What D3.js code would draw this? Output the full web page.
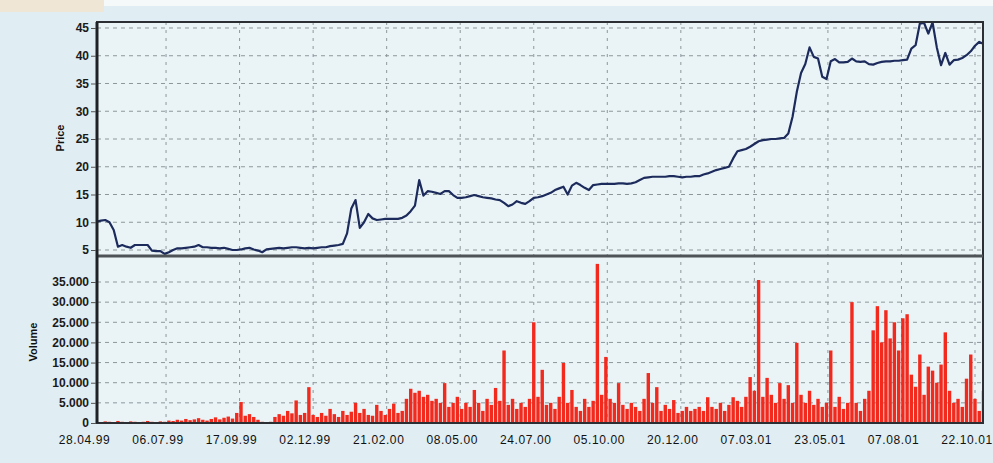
<!DOCTYPE html>
<html>
<head>
<meta charset="utf-8">
<script src="https://cdn.jsdelivr.net/npm/d3@7/dist/d3.min.js"></script>
<style>
  html, body { margin: 0; padding: 0; background: #e0edf2; }
  svg { display: block; }
  text { font-family: "Liberation Sans", Arial, sans-serif; }
</style>
</head>
<body>
<svg id="chart" width="993" height="463"></svg>
<script>
// ---- data ----
const xTickLabels = ["28.04.99","06.07.99","17.09.99","02.12.99","21.02.00","08.05.00","24.07.00","05.10.00","20.12.00","07.03.01","23.05.01","07.08.01","22.10.01"];
const labelEvery = 52;      // trading days between date labels
const sampleEvery = 3;      // trading days between samples
const firstSampleDay = 3;

const priceTicks = [5, 10, 15, 20, 25, 30, 35, 40, 45];
const volumeTicks = [0, 5000, 10000, 15000, 20000, 25000, 30000, 35000];

const price = [
 10.1,10.3,10.4,10.0,8.6,5.6,5.9,5.6,5.4,5.9,
 5.9,5.9,5.9,4.9,4.8,4.8,4.3,4.6,5.0,5.3,
 5.3,5.4,5.5,5.6,5.9,5.5,5.5,5.4,5.4,5.3,
 5.4,5.2,5.0,5.0,5.1,5.3,5.4,5.1,4.9,4.6,
 5.1,5.2,5.3,5.4,5.3,5.4,5.5,5.5,5.4,5.3,
 5.4,5.3,5.4,5.5,5.5,5.7,5.8,5.9,6.1,8.0,
 12.5,14.0,9.0,10.0,11.5,10.7,10.4,10.5,10.6,10.6,
 10.6,10.6,10.8,11.2,12.0,13.0,17.6,14.8,15.6,15.5,
 15.3,15.1,15.6,15.6,14.9,14.4,14.4,14.5,14.7,14.9,
 14.7,14.5,14.4,14.3,14.1,14.0,13.5,12.9,13.2,13.8,
 13.5,13.3,13.8,14.4,14.5,14.7,15.0,15.3,15.8,16.1,
 16.4,15.0,16.6,17.1,16.7,16.2,15.8,16.7,16.8,16.9,
 16.9,16.9,16.9,17.0,17.0,16.9,17.0,17.2,17.6,18.0,
 18.1,18.2,18.2,18.2,18.2,18.3,18.3,18.2,18.1,18.2,
 18.2,18.3,18.3,18.6,18.8,19.1,19.4,19.6,19.8,20.0,
 21.5,22.8,23.0,23.2,23.6,24.1,24.6,24.8,24.9,25.0,
 25.0,25.1,25.2,26.0,29.0,33.5,36.9,38.5,41.5,39.8,
 39.5,36.2,35.8,39.0,39.4,38.8,38.8,38.9,39.5,39.0,
 38.9,39.0,38.5,38.4,38.7,38.9,39.0,39.0,39.1,39.1,
 39.2,39.3,41.3,41.9,45.8,45.9,44.0,46.0,41.5,38.3,
 40.5,38.4,39.2,39.3,39.6,40.1,40.8,41.8,42.5,42.1
];

const volume = [
 300,200,400,300,200,500,300,200,400,300,
 200,300,500,300,200,400,300,600,500,800,
 600,1000,700,900,1200,800,600,1000,1400,900,
 1300,1600,1100,2500,5200,1800,2200,1500,800,300,
 200,300,1500,2200,1800,3000,2400,5600,2000,2500,
 8900,2000,1500,2500,1800,3500,2200,1500,3000,2000,
 2800,5000,2500,3500,2000,1800,4500,3000,2000,3500,
 4800,2500,3000,6000,8500,7500,8000,6500,7000,5500,
 6000,5000,9900,4000,5000,6500,3500,5000,4000,8200,
 5000,3000,6000,4500,8700,5500,18000,4500,6000,3500,
 5000,4000,6000,25000,6500,13200,4500,5000,3500,6500,
 14900,5000,8200,4000,3000,6000,4000,5500,39500,7000,
 16400,6000,5000,9900,4500,3500,5000,4000,3000,6000,
 12400,5000,8900,3000,4500,3500,5700,2500,3000,4000,
 3000,3500,4000,3000,6400,4000,3500,5000,3000,4500,
 6400,5500,4000,6500,11400,8000,35500,6500,11200,7000,
 5000,9900,6000,9400,5000,19900,7000,5000,8000,4500,
 6000,4000,5000,18000,4000,6500,3500,5000,30000,5000,
 3000,6000,8000,23000,29000,20000,28000,21000,25000,18000,
 26000,27000,12000,9000,17000,7000,14000,13000,10000,14500,
 22500,8000,5000,6000,4000,11000,17000,6000,3000,8000
];

// ---- layout ----
const svg = d3.select("#chart");
const W = 993, H = 463;
const mLeft = 97, mRight = 983, mTop = 22, mMid = 256, mBottom = 423;

svg.append("rect").attr("width", W).attr("height", H).attr("fill", "#e0edf2");
svg.append("rect").attr("x", 0).attr("y", 0).attr("width", W).attr("height", 6).attr("fill", "#f6f9fa");
svg.append("rect").attr("x", 0).attr("y", 0).attr("width", 104).attr("height", 12).attr("fill", "#efe6d6");

svg.append("rect").attr("x", mLeft).attr("y", mTop).attr("width", mRight - mLeft).attr("height", mBottom - mTop).attr("fill", "#eaf4f7");

const nLabels = xTickLabels.length;
const x = d3.scaleLinear().domain([0, (nLabels - 1) * labelEvery]).range([92.5, 975]);
const dayOf = i => firstSampleDay + i * sampleEvery;

const yP = d3.scaleLinear().domain([3.92, 46.08]).range([mMid, mTop]);
const yV = d3.scaleLinear().domain([0, 40960]).range([mBottom, mMid + 2]);

const defs = svg.append("defs");
defs.append("clipPath").attr("id", "clipP").append("rect")
  .attr("x", mLeft).attr("y", mTop).attr("width", mRight - mLeft).attr("height", mMid - mTop);
defs.append("clipPath").attr("id", "clipV").append("rect")
  .attr("x", mLeft).attr("y", mMid).attr("width", mRight - mLeft).attr("height", mBottom - mMid);

const gridColor = "#8c979c";
const g = svg.append("g");
g.selectAll(".hp").data(priceTicks).join("line")
  .attr("x1", mLeft).attr("x2", mRight)
  .attr("y1", d => yP(d)).attr("y2", d => yP(d))
  .attr("stroke", gridColor).attr("stroke-width", 1).attr("stroke-dasharray", "4,4");
g.selectAll(".hv").data(volumeTicks.filter(d => d > 0)).join("line")
  .attr("x1", mLeft).attr("x2", mRight)
  .attr("y1", d => yV(d)).attr("y2", d => yV(d))
  .attr("stroke", gridColor).attr("stroke-width", 1).attr("stroke-dasharray", "4,4");
const tickDays = xTickLabels.map((d, i) => i * labelEvery);
g.selectAll(".vg").data(tickDays.filter(d => x(d) > mLeft + 2)).join("line")
  .attr("x1", d => x(d)).attr("x2", d => x(d))
  .attr("y1", mTop).attr("y2", mBottom)
  .attr("stroke", gridColor).attr("stroke-width", 1).attr("stroke-dasharray", "3,5");

// volume bars
svg.append("g").attr("clip-path", "url(#clipV)")
  .selectAll("rect").data(volume).join("rect")
  .attr("x", (d, i) => x(dayOf(i)) - 1.7)
  .attr("width", 3.4)
  .attr("y", d => yV(d))
  .attr("height", d => yV(0) - yV(d))
  .attr("fill", "#f2291d");

// price line
const line = d3.line().x((d, i) => x(dayOf(i))).y(d => yP(d));
svg.append("g").attr("clip-path", "url(#clipP)")
  .append("path").datum(price)
  .attr("d", line)
  .attr("fill", "none")
  .attr("stroke", "#1c2b5c")
  .attr("stroke-width", 2.2)
  .attr("stroke-linejoin", "round");

// frame
svg.append("rect").attr("x", mLeft).attr("y", mTop).attr("width", mRight - mLeft).attr("height", mBottom - mTop)
  .attr("fill", "none").attr("stroke", "#2b2f33").attr("stroke-width", 2);
svg.append("line").attr("x1", mLeft).attr("x2", mRight).attr("y1", mMid).attr("y2", mMid)
  .attr("stroke", "#4d5357").attr("stroke-width", 3);
svg.append("line").attr("x1", mLeft).attr("x2", mLeft).attr("y1", mTop).attr("y2", mBottom)
  .attr("stroke", "#1e2226").attr("stroke-width", 3);

// axes
const fmtLocale = d3.formatLocale({decimal: ",", thousands: ".", grouping: [3], currency: ["", ""]});
const fmtV = fmtLocale.format(",d");

const axP = svg.append("g").attr("transform", `translate(${mLeft - 1},0)`)
  .call(d3.axisLeft(yP).tickValues(priceTicks).tickSize(5).tickPadding(2).tickFormat(d3.format("d")));
const axV = svg.append("g").attr("transform", `translate(${mLeft - 1},0)`)
  .call(d3.axisLeft(yV).tickValues(volumeTicks).tickSize(5).tickPadding(2).tickFormat(fmtV));
[axP, axV].forEach(a => {
  a.select(".domain").remove();
  a.selectAll(".tick line").attr("stroke", "#555");
  a.selectAll(".tick text").attr("fill", "#1a1a1a").style("font-size", "12px").style("font-weight", "bold");
});

// x labels
svg.append("g").selectAll("text").data(xTickLabels).join("text")
  .attr("x", (d, i) => x(i * labelEvery) - 8)
  .attr("y", 444)
  .attr("text-anchor", "middle")
  .attr("fill", "#111")
  .style("font-size", "12px")
  .style("letter-spacing", "0.6px")
  .text(d => d);

// axis titles
svg.append("text").attr("transform", "translate(64,138) rotate(-90)")
  .attr("text-anchor", "middle").attr("fill", "#111")
  .style("font-size", "11px").style("font-weight", "bold").text("Price");
svg.append("text").attr("transform", "translate(37,342) rotate(-90)")
  .attr("text-anchor", "middle").attr("fill", "#111")
  .style("font-size", "11px").style("font-weight", "bold").text("Volume");
</script>
</body>
</html>
